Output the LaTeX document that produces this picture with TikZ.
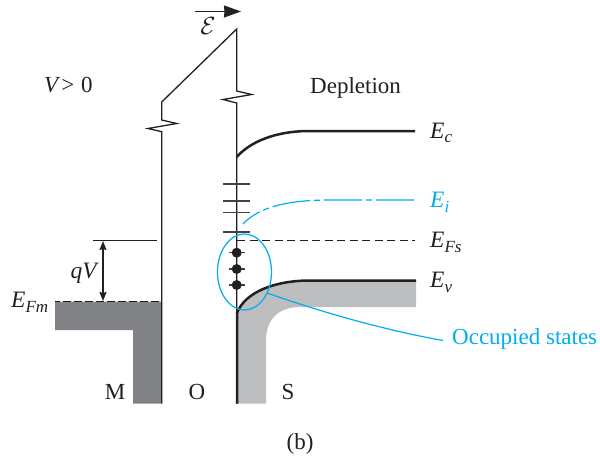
\documentclass[tikz,border=0pt]{standalone}
\usepackage{fontspec}
\setmainfont{Liberation Serif}
\usetikzlibrary{arrows.meta,shapes.geometric}
\definecolor{cy}{HTML}{00AEEF}
\definecolor{dk}{HTML}{808285}
\definecolor{lt}{HTML}{BCBEC0}
\definecolor{ink}{HTML}{231F20}
\tikzset{
 wire/.style={draw=ink,line width=1.3pt},
 band/.style={draw=ink,line width=2.5pt},
 trap/.style={draw=ink!85,line width=1.2pt},
 lab/.style={text=ink,font=\fontsize{23}{26}\selectfont,inner sep=0pt},
 lab2/.style={lab,font=\fontsize{23.5}{26}\selectfont\itshape},
 cylab/.style={lab,text=cy},
 dot/.style={circle,fill=ink,inner sep=0pt,minimum size=10pt},
 dashline/.style={draw=ink,line width=1.3pt,dash pattern=on 8pt off 4.5pt},
 cyl/.style={draw=cy,line width=1.2pt}
}
\newcommand{\subs}[1]{\raisebox{-5pt}{\fontsize{17}{17}\selectfont #1}}
\begin{document}
\begin{tikzpicture}[x=1pt,y=-1pt]
\useasboundingbox (0,0) rectangle (600,460);
% fills
\fill[dk] (55,302) -- (161,302) -- (161,403.5) -- (133,403.5) -- (133,330) -- (55,330) -- cycle;
\fill[lt] (237,403.5) -- (237,312) .. controls (245,292) and (275,280) .. (310,280) -- (416,280) -- (416,307) -- (300,307) .. controls (280,307) and (266,318) .. (266,340) -- (266,403.5) -- cycle;
% oxide walls
\coordinate (ml) at (161.7,403.5);
\coordinate (mt) at (161.7,102);
\coordinate (st) at (236.7,29);
\coordinate (sb) at (236.7,403.5);
\draw[wire,line join=miter] (ml) -- (161.7,131.7) -- (148,128.5) -- (176.7,123.5) -- (161.7,120) -- (mt) -- (st) -- (236.7,91) -- (251.7,94.5) -- (223,99.5) -- (236.7,103) -- (sb);
% band edges
\draw[band] (236.7,157) .. controls (250,142) and (275,131) .. (310,131) -- (415,131);
\draw[band] (237,403.5) -- (237,313) .. controls (245,292) and (275,280.5) .. (310,280.5) -- (416,280.5);
% traps
\foreach \y in {184,201,212.7,232} \draw[trap] (223,\y) -- (250,\y);
\foreach \y/\n in {252.7/a,269/b,285/c}{
 \draw[trap] (229,\y) -- (245,\y);
 \node[dot] (s\n) at (236.7,\y) {};
}
% Ei
\draw[cyl,dash pattern=on 38pt off 4pt on 6pt off 4pt] (414,200) -- (330,200) .. controls (285,200) and (258,208) .. (243,224);
% Fermi levels
\draw[dashline] (237,240.5) -- (415,240.5);
\draw[wire] (93,240.5) -- (157,240.5);
\draw[draw=ink,line width=1.3pt] (55,301.5) -- (161,301.5);
\draw[draw=white!85!black,line width=1.3pt,dash pattern=on 3pt off 8pt] (60,301.5) -- (161,301.5);
\coordinate (qa) at (103,241);
\coordinate (qb) at (103,301);
\draw[wire,{Stealth[length=9pt,width=7pt,inset=1pt]}-{Stealth[length=9pt,width=7pt,inset=1pt]}] (qa) -- (qb);
% field
\coordinate (fa) at (195,11.5);
\coordinate (fb) at (241,11.5);
\draw[wire,-{Stealth[length=17pt,width=12pt,inset=0.5pt]}] (fa) -- (fb);
\node[lab,font=\fontsize{23}{23}\selectfont] (field) at (208,26) {$\mathcal{E}$};
% occupied states
\node[cyl,ellipse,minimum width=54pt,minimum height=76pt,inner sep=0pt] (occ) at (244.5,272) {};
\coordinate (oc) at (267,293);
\coordinate (oe) at (443,340.5);
\node[cylab,anchor=west] (ost) at (452,338.5) {Occupied states};
\draw[cyl] (oc) .. controls (330,315) and (390,331) .. (oe);
% labels
\node[lab,anchor=west] (vl) at (44,85) {\textit{V}\kern1pt>\kern1pt\hbox{ }0};
\node[lab,anchor=west] (dep) at (310,88) {Depletion};
\node[lab2,anchor=base west] (ec) at (430,138) {E\subs{c}};
\node[lab2,anchor=base west,text=cy] (ei) at (430,207) {E\subs{i}};
\node[lab2,anchor=base west] (efs) at (430,247) {E\subs{Fs}};
\node[lab2,anchor=base west] (ev) at (430,287) {E\subs{v}};
\node[lab2,anchor=base west] (efm) at (11,307) {E\subs{Fm}};
\node[lab2,anchor=base east] (qv) at (97,278) {qV};
\node[lab] (m) at (115,392) {M};
\node[lab] (o) at (197,392) {O};
\node[lab] (ss) at (288,392) {S};
\node[lab] (cap) at (300,444) {(b)};
\end{tikzpicture}
\end{document}
